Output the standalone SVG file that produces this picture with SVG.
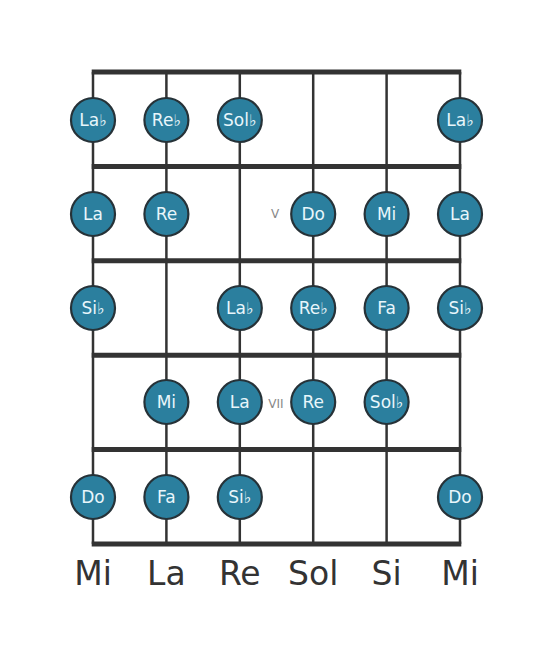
<svg xmlns="http://www.w3.org/2000/svg" width="553" height="656" viewBox="0 0 553 656">
<style>
.s{stroke:#333;stroke-width:2.5;fill:none}
.f{stroke:#333;stroke-width:5;fill:none}
.n circle{fill:#2b7f9e;stroke:#263238;stroke-width:2.2}
.n text{fill:#e8f6fb;font-family:"DejaVu Sans",sans-serif;font-size:17px;text-anchor:middle;dominant-baseline:central}
.fl{font-size:16px}
.lab{fill:#333;font-family:"DejaVu Sans",sans-serif;font-size:33px;text-anchor:middle}
.fr{fill:#888;font-family:"DejaVu Sans",sans-serif;font-size:12px;text-anchor:middle;dominant-baseline:central}
</style>
<rect width="553" height="656" fill="#fff"/>
<g id="connectors">
<line class="s" x1="93" y1="72" x2="93" y2="544"/>
<line class="s" x1="166.4" y1="72" x2="166.4" y2="544"/>
<line class="s" x1="239.8" y1="72" x2="239.8" y2="544"/>
<line class="s" x1="313.2" y1="72" x2="313.2" y2="544"/>
<line class="s" x1="386.6" y1="72" x2="386.6" y2="544"/>
<line class="s" x1="460" y1="72" x2="460" y2="544"/>
<line class="f" x1="91.7" y1="72" x2="461.3" y2="72"/>
<line class="f" x1="91.7" y1="166.4" x2="461.3" y2="166.4"/>
<line class="f" x1="91.7" y1="260.8" x2="461.3" y2="260.8"/>
<line class="f" x1="91.7" y1="355.2" x2="461.3" y2="355.2"/>
<line class="f" x1="91.7" y1="449.6" x2="461.3" y2="449.6"/>
<line class="f" x1="91.7" y1="544" x2="461.3" y2="544"/>
</g>
<text class="fr" x="275" y="214">V</text>
<text class="fr" x="276" y="404">VII</text>
<g id="n1" class="n"><circle cx="93" cy="120" r="22"/><text x="93" y="120">La<tspan class="fl">♭</tspan></text></g>
<g id="n2" class="n"><circle cx="166.4" cy="120" r="22"/><text x="166.4" y="120">Re<tspan class="fl">♭</tspan></text></g>
<g id="n3" class="n"><circle cx="239.8" cy="120" r="22"/><text x="239.8" y="120">Sol<tspan class="fl">♭</tspan></text></g>
<g id="n4" class="n"><circle cx="460" cy="120" r="22"/><text x="460" y="120">La<tspan class="fl">♭</tspan></text></g>
<g id="n5" class="n"><circle cx="93" cy="214" r="22"/><text x="93" y="214">La</text></g>
<g id="n6" class="n"><circle cx="166.4" cy="214" r="22"/><text x="166.4" y="214">Re</text></g>
<g id="n7" class="n"><circle cx="313.2" cy="214" r="22"/><text x="313.2" y="214">Do</text></g>
<g id="n8" class="n"><circle cx="386.6" cy="214" r="22"/><text x="386.6" y="214">Mi</text></g>
<g id="n9" class="n"><circle cx="460" cy="214" r="22"/><text x="460" y="214">La</text></g>
<g id="n10" class="n"><circle cx="93" cy="308" r="22"/><text x="93" y="308">Si<tspan class="fl">♭</tspan></text></g>
<g id="n11" class="n"><circle cx="239.8" cy="308" r="22"/><text x="239.8" y="308">La<tspan class="fl">♭</tspan></text></g>
<g id="n12" class="n"><circle cx="313.2" cy="308" r="22"/><text x="313.2" y="308">Re<tspan class="fl">♭</tspan></text></g>
<g id="n13" class="n"><circle cx="386.6" cy="308" r="22"/><text x="386.6" y="308">Fa</text></g>
<g id="n14" class="n"><circle cx="460" cy="308" r="22"/><text x="460" y="308">Si<tspan class="fl">♭</tspan></text></g>
<g id="n15" class="n"><circle cx="166.4" cy="402" r="22"/><text x="166.4" y="402">Mi</text></g>
<g id="n16" class="n"><circle cx="239.8" cy="402" r="22"/><text x="239.8" y="402">La</text></g>
<g id="n17" class="n"><circle cx="313.2" cy="402" r="22"/><text x="313.2" y="402">Re</text></g>
<g id="n18" class="n"><circle cx="386.6" cy="402" r="22"/><text x="386.6" y="402">Sol<tspan class="fl">♭</tspan></text></g>
<g id="n19" class="n"><circle cx="93" cy="497" r="22"/><text x="93" y="497">Do</text></g>
<g id="n20" class="n"><circle cx="166.4" cy="497" r="22"/><text x="166.4" y="497">Fa</text></g>
<g id="n21" class="n"><circle cx="239.8" cy="497" r="22"/><text x="239.8" y="497">Si<tspan class="fl">♭</tspan></text></g>
<g id="n22" class="n"><circle cx="460" cy="497" r="22"/><text x="460" y="497">Do</text></g>
<text class="lab" x="93" y="585">Mi</text>
<text class="lab" x="166.4" y="585">La</text>
<text class="lab" x="239.8" y="585">Re</text>
<text class="lab" x="313.2" y="585">Sol</text>
<text class="lab" x="386.6" y="585">Si</text>
<text class="lab" x="460" y="585">Mi</text>
</svg>
